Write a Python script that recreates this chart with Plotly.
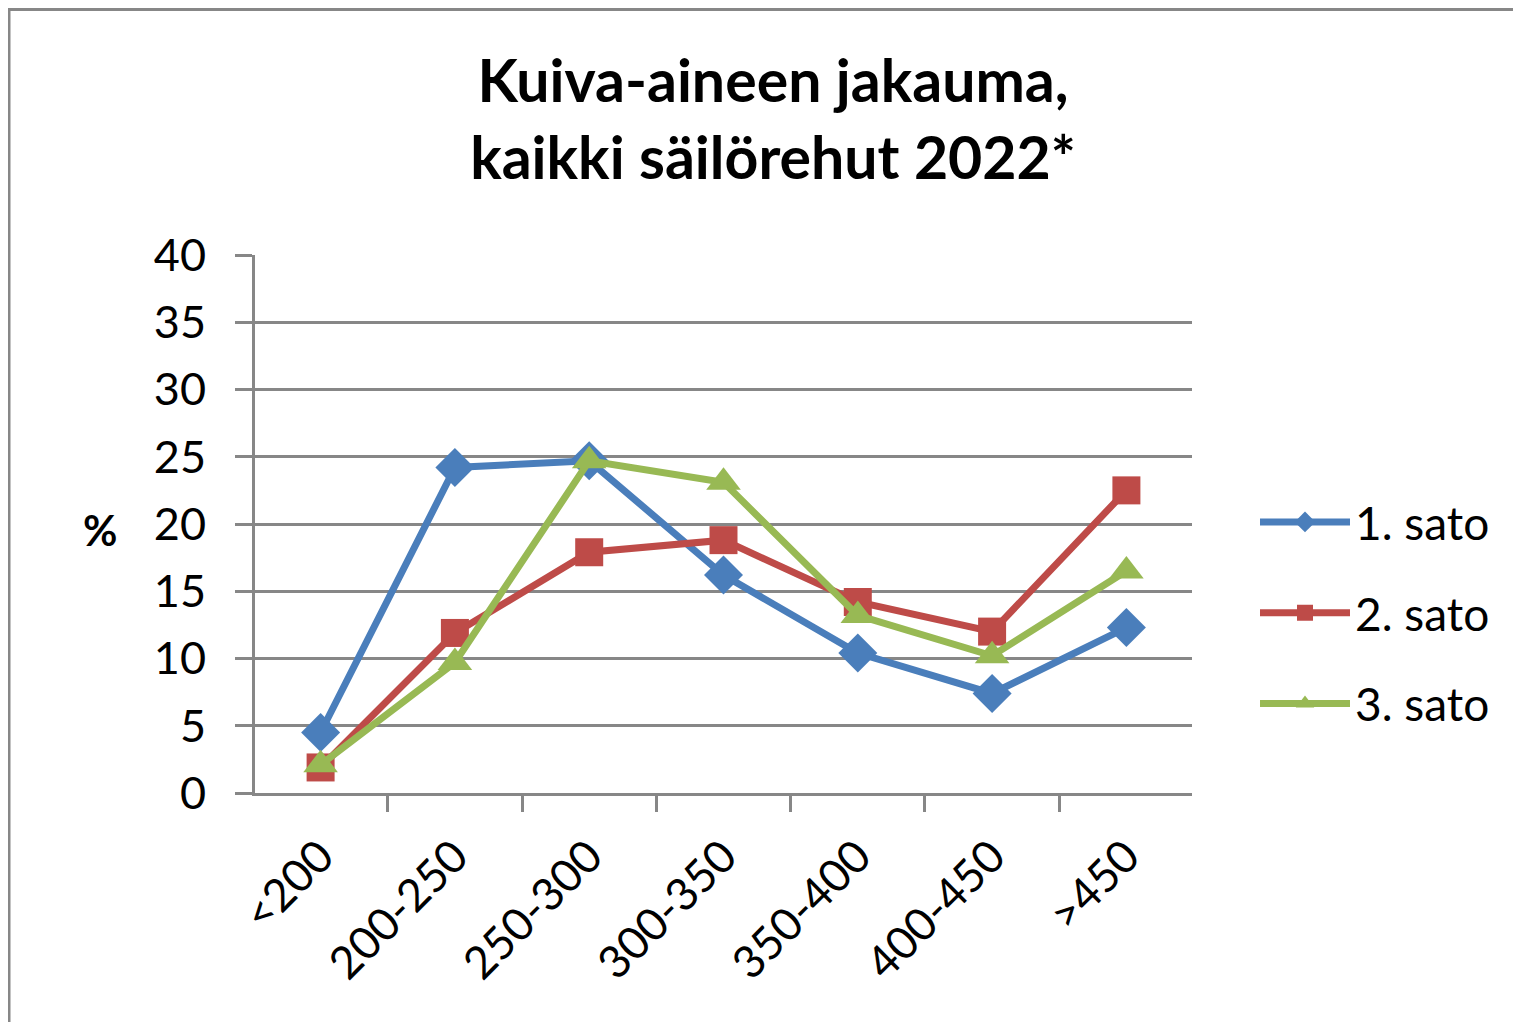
import plotly.graph_objects as go

categories = ["<200", "200-250", "250-300", "300-350", "350-400", "400-450", ">450"]
sato1 = [4.5, 24.2, 24.7, 16.2, 10.4, 7.4, 12.3]
sato2 = [1.9, 11.9, 17.9, 18.8, 14.2, 12.0, 22.5]
sato3 = [2.1, 9.7, 24.7, 23.1, 13.2, 10.2, 16.5]
series_names = ["1. sato", "2. sato", "3. sato"]
y_ticks = [0, 5, 10, 15, 20, 25, 30, 35, 40]

OFF = 8  # page body margin
W, H = 1521 - OFF, 1022 - OFF
L, R, T, B = 255 - OFF, 1192 - OFF, 255 - OFF, 793 - OFF
FONT = "Lato"
GRAY = "#878787"

fig = go.Figure()
styles = [
    (sato1, "#4A7EBB", "diamond", 30),
    (sato2, "#BE4B48", "square", 28),
    (sato3, "#98B954", "triangle-up", 30),
]
for i, (name, (vals, col, sym, sz)) in enumerate(zip(series_names, styles)):
    fig.add_trace(go.Scatter(
        x=categories, y=vals, name=name, mode="lines+markers", legendgroup=f"g{i}",
        line=dict(color=col, width=7),
        marker=dict(symbol=sym, size=sz, color=col, line=dict(width=0)),
    ))

pw, ph = R - L, B - T
fig.add_shape(type="rect", xref="paper", yref="paper",
              x0=(9 - OFF - L) / pw, x1=(1560 - L) / pw,
              y0=(B - 1100) / ph, y1=(B - 1.5) / ph,
              line=dict(color=GRAY, width=3), fillcolor="rgba(0,0,0,0)", layer="below")

fig.add_annotation(text="<b>%</b>", xref="paper", yref="paper",
                   x=(100 - OFF - L) / pw, y=(B - (530 - OFF)) / ph, showarrow=False,
                   font=dict(family=FONT, size=42, color="black"),
                   xanchor="center", yanchor="middle")

fig.update_layout(
    width=W, height=H,
    margin=dict(l=L, r=W - R, t=T, b=H - B, pad=0),
    paper_bgcolor="white", plot_bgcolor="white",
    font=dict(family=FONT, size=45, color="black"),
    title=dict(text="<b>Kuiva-aineen jakauma,<br>kaikki säilörehut 2022*</b>",
               x=(773 - OFF) / W, xanchor="center", y=1 - 94 / H, yanchor="middle",
               font=dict(family=FONT, size=59, color="black")),
    showlegend=True,
    legend=dict(x=(1255 - OFF - L) / pw, xanchor="left", y=(B - (613 - OFF)) / ph, yanchor="middle",
                font=dict(family=FONT, size=46, color="black"),
                itemwidth=90, tracegroupgap=28, bgcolor="rgba(0,0,0,0)"),
    xaxis=dict(type="category", categoryorder="array", categoryarray=categories,
               tickangle=-45, tickson="boundaries", ticks="outside", ticklen=16,
               tickwidth=3, tickcolor=GRAY, showline=True, linecolor=GRAY, linewidth=3,
               showgrid=False, zeroline=False, ticklabelstandoff=16,
               tickfont=dict(family=FONT, size=45)),
    yaxis=dict(range=[0, 40], tickvals=y_ticks, ticks="outside", ticklen=17,
               tickwidth=3, tickcolor=GRAY, showline=True, linecolor=GRAY, linewidth=3,
               showgrid=True, gridcolor=GRAY, gridwidth=3, zeroline=False,
               ticklabelstandoff=20, tickfont=dict(family=FONT, size=45)),
)

fig.write_html("out.html")
